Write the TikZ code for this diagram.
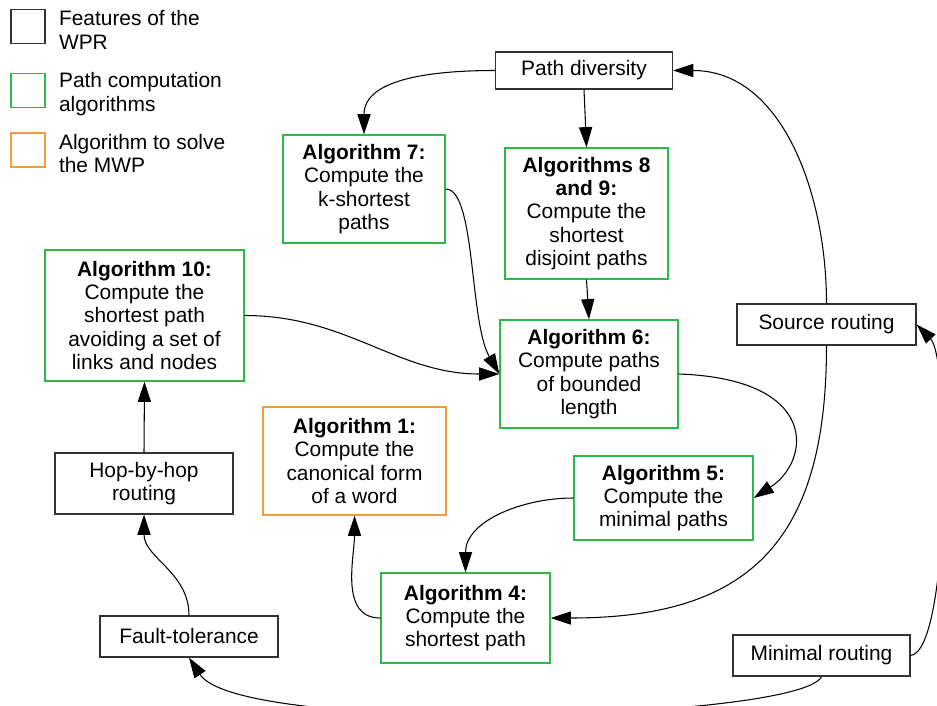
\documentclass[tikz,border=0pt]{standalone}
\usepackage{fontspec}
\setmainfont{Liberation Sans}
\usetikzlibrary{arrows.meta,positioning}
\definecolor{featgray}{RGB}{50,50,50}
\definecolor{algogreen}{RGB}{45,185,70}
\definecolor{mwporange}{RGB}{245,155,60}
\tikzset{>={Triangle[length=11.5pt,width=7.5pt]}}
\tikzset{box/.style={draw, line width=0.8pt, align=center, inner sep=2pt}}
\tikzset{feature/.style={box, draw=featgray}}
\tikzset{algo/.style={box, draw=algogreen}}
\tikzset{mwp/.style={box, draw=mwporange}}
\tikzstyle{link} = [->, line width=0.6pt]

\begin{document}
\begin{tikzpicture}[every node/.style={font=\fontsize{11.9}{13.2}\selectfont}]

\useasboundingbox (0,0) rectangle (18.74,14.10);

% legend
\node[feature, minimum size=0.68cm] (keyfeat) at (0.56,13.57) {};
\node[algo, minimum size=0.68cm] (keyalgo) at (0.56,12.29) {};
\node[mwp, minimum size=0.68cm] (keymwp) at (0.56,11.10) {};
\node[right=0.26cm of keyfeat, inner sep=0, align=left, yshift=-0.07cm] (txtfeat) {Features of the\\WPR};
\node[right=0.26cm of keyalgo, inner sep=0, align=left, yshift=-0.07cm] (txtalgo) {Path computation\\algorithms};
\node[right=0.26cm of keymwp, inner sep=0, align=left, yshift=-0.07cm] (txtmwp) {Algorithm to solve\\the MWP};

% features of the WPR
\node[feature, minimum width=3.54cm, minimum height=0.74cm] (pathdiv) at (11.68,12.69) {Path diversity};
\node[feature, minimum width=3.58cm, minimum height=0.82cm] (srcroute) at (16.53,7.61) {Source routing};
\node[feature, minimum width=3.56cm, minimum height=1.22cm] (hophop) at (2.88,4.43) {Hop-by-hop\\routing};
\node[feature, minimum width=3.56cm, minimum height=0.82cm] (fault) at (3.78,1.37) {Fault-tolerance};
\node[feature, minimum width=3.54cm, minimum height=0.82cm] (minroute) at (16.43,0.99) {Minimal routing};

% algorithms
\node[algo, minimum width=3.24cm, minimum height=2.16cm] (alg7) at (7.28,10.32)
  {\textbf{Algorithm 7:}\\Compute the\\k-shortest\\paths};
\node[algo, minimum width=3.26cm, minimum height=2.62cm] (alg89) at (11.73,9.83)
  {\textbf{Algorithms 8}\\\textbf{and 9:}\\Compute the\\shortest\\disjoint paths};
\node[algo, minimum width=3.98cm, minimum height=2.62cm] (alg10) at (2.89,7.79)
  {\textbf{Algorithm 10:}\\Compute the\\shortest path\\avoiding a set of\\links and nodes};
\node[algo, minimum width=3.56cm, minimum height=2.16cm] (alg6) at (11.78,6.62)
  {\textbf{Algorithm 6:}\\Compute paths\\of bounded\\length};
\node[mwp, minimum width=3.66cm, minimum height=2.16cm] (alg1) at (7.09,4.88)
  {\textbf{Algorithm 1:}\\Compute the\\canonical form\\of a word};
\node[algo, minimum width=3.58cm, minimum height=1.68cm] (alg5) at (13.27,4.14)
  {\textbf{Algorithm 5:}\\Compute the\\minimal paths};
\node[algo, minimum width=3.38cm, minimum height=1.80cm] (alg4) at (9.31,1.74)
  {\textbf{Algorithm 4:}\\Compute the\\shortest path};

% dependencies
\draw[link] (pathdiv.west) to[out=180,in=90] (alg7.north);
\draw[link] (pathdiv.south) -- (alg89.north);
\draw[link] (alg7.east) .. controls +(0.6,0) and +(-0.6,1.04) .. (alg6.west);
\draw[link] (alg10.east) to[out=0,in=180] (alg6.west);
\draw[link] (alg89.south) -- (alg6.north);
\draw[link] (alg6.east) .. controls +(2.84,-0.1) and +(1.14,0.74) .. (alg5.east);
\draw[link] (alg5.west) to[out=180,in=90] (alg4.north);
\draw[link] (alg4.west) to[out=180,in=-90] (alg1.south);
\draw[link] (srcroute.south) to[out=-90,in=0,looseness=1.3] (alg4.east);
\draw[link] (srcroute.north) to[out=90,in=0] (pathdiv.east);
\draw[link] (minroute.east) .. controls +(0.8,0.1) and +(0.68,-0.7) .. (srcroute.east);
\draw[link] (minroute.south) .. controls +(-0.44,-0.88) and +(1.02,-1.56) .. (fault.south);
\draw[link] (fault.north) to[out=90,in=-90] (hophop.south);
\draw[link] (hophop.north) -- (alg10.south);

\end{tikzpicture}
\end{document}
